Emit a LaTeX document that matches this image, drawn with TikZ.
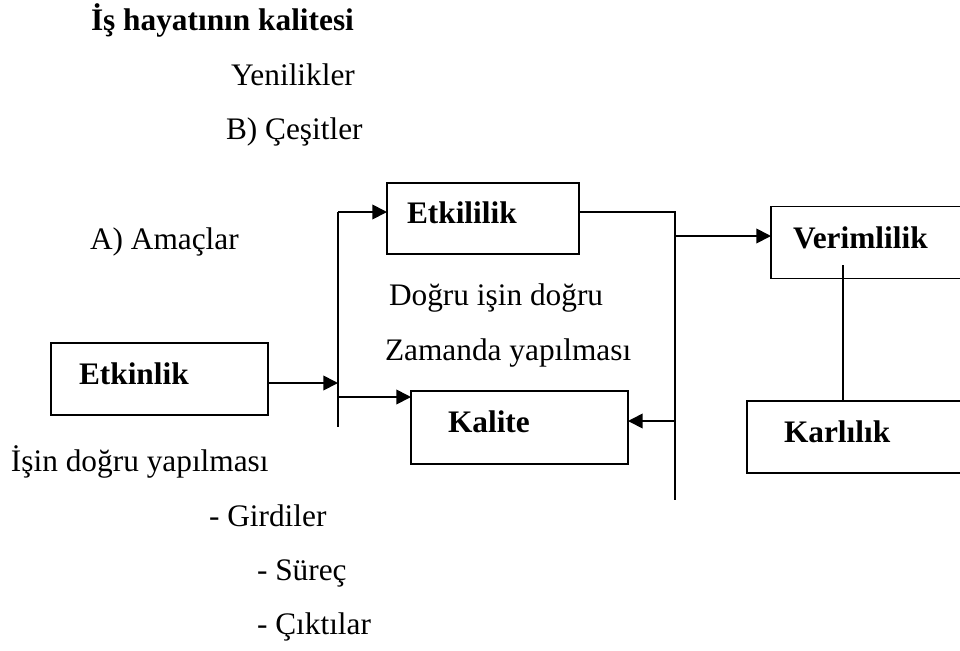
\documentclass[tikz,border=0pt]{standalone}
\usepackage{fontspec}
\setmainfont{Liberation Serif}
\usetikzlibrary{arrows.meta}
\begin{document}
\begin{tikzpicture}[x=0.75pt,y=-0.75pt,
  every node/.style={inner sep=0pt,outer sep=0pt},
  txt/.style={anchor=base west,font=\fontsize{23.5pt}{28pt}\selectfont},
  btxt/.style={txt,font=\fontsize{23.5pt}{28pt}\selectfont\bfseries},
  box/.style={draw,line width=1.3pt,rectangle},
  line/.style={line width=1.3pt},
  arr/.style={line width=1.3pt,-{Triangle[length=11pt,width=11pt]}}]
\useasboundingbox (0,0) rectangle (960,650);
\clip (0,0) rectangle (960,650);

% free-standing texts
\node[btxt] (title) at (91,30) {İş hayatının kalitesi};
\node[txt] (yeni) at (231,85) {Yenilikler};
\node[txt] (cesit) at (226,139) {B) Çeşitler};
\node[txt] (amac) at (90,249) {A) Amaçlar};
\node[txt] (dogru1) at (389,305) {Doğru işin doğru};
\node[txt] (dogru2) at (385,360) {Zamanda yapılması};
\node[txt] (isin) at (11,471) {İşin doğru yapılması};
\node[txt] (girdi) at (209,526) {- Girdiler};
\node[txt] (surec) at (257,580) {- Süreç};
\node[txt] (cikti) at (257,634) {- Çıktılar};

% boxes
\node[box,minimum width=162.75pt,minimum height=54pt] (etkinlik) at (159.5,379) {};
\node[box,minimum width=144pt,minimum height=53.25pt] (etkililik) at (483,218.5) {};
\node[box,minimum width=162.75pt,minimum height=54.75pt] (kalite) at (519.5,427.5) {};
\node[box,minimum width=164.25pt,minimum height=54pt] (verim) at (880.5,242.5) {};
\node[box,minimum width=182.25pt,minimum height=54pt] (karl) at (868.5,437) {};

% box labels
\node[btxt] (etkinlikT) at (79,384) {Etkinlik};
\node[btxt] (etkililikT) at (407,223) {Etkililik};
\node[btxt] (kaliteT) at (448,432) {Kalite};
\node[btxt] (verimT) at (793,248) {Verimlilik};
\node[btxt] (karlT) at (784,442) {Karlılık};

% junction points
\coordinate (lbarT) at (338,212);
\coordinate (lbarB) at (338,427);
\coordinate (lbarK) at (338,397);
\coordinate (rbarT) at (675,212);
\coordinate (rbarB) at (675,500);
\coordinate (rbarV) at (675,236);
\coordinate (rbarK) at (675,421);
\coordinate (vk) at (843,265);

% connectors
\draw[line] (lbarT) -- (lbarB);
\draw[arr] ([yshift=-3pt]etkinlik.east) -- ([yshift=-3pt]etkinlik.east -| lbarT);
\draw[arr] (lbarT) -- (lbarT -| etkililik.west);
\draw[arr] (lbarK) -- (lbarK -| kalite.west);
\draw[line] (etkililik.east |- rbarT) -- (rbarT) -- (rbarB);
\draw[arr] (rbarV) -- (rbarV -| verim.west);
\draw[arr] (rbarK) -- (rbarK -| kalite.east);
\draw[line] (vk) -- (vk |- karl.north);
\end{tikzpicture}
\end{document}
